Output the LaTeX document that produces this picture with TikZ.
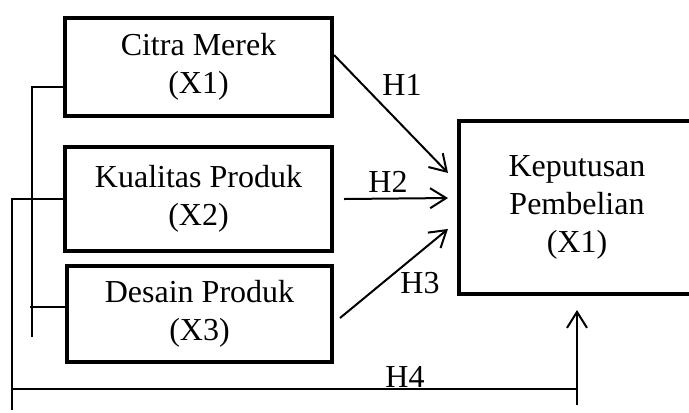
\documentclass[tikz,border=0pt]{standalone}
\usepackage{fontspec}
\setmainfont{Liberation Serif}
\usetikzlibrary{positioning,arrows.meta,calc}

\begin{document}
\begin{tikzpicture}[
    x=0.75pt, y=-0.75pt,
    box/.style={draw, line width=3pt, align=center, inner sep=0pt, font=\fontsize{24}{28.5}\selectfont},
    lbl/.style={inner sep=0pt, font=\fontsize{24}{28.5}\selectfont},
    link/.style={line width=1.5pt},
    arr/.style={link, -{Straight Barb[length=12pt,width=15pt]}}
]
\useasboundingbox (0,0) rectangle (689,412);
\clip (0,0) rectangle (689,412);
% variable boxes
\node[box, minimum width=200.25pt, minimum height=73.5pt] (citra) at (198.5,67) {Citra Merek\\(X1)};
\node[box, minimum width=200.25pt, minimum height=78pt] (kualitas) at (198.5,199) {Kualitas Produk\\(X2)};
\node[box, minimum width=198.75pt, minimum height=72pt] (desain) at (199.5,314) {Desain Produk\\(X3)};
\node[box, minimum width=177pt, minimum height=129.75pt] (keputusan) at (577,207.5) {Keputusan\\Pembelian\\(X1)};
% free ends of the side lines
\coordinate (brtop) at (32,87);
\coordinate (brbot) at (32,337);
\coordinate (outtop) at (12,199);
\coordinate (outbot) at (12,410);
\coordinate (h4end) at (577,389);
\coordinate (upstart) at (577,405);
% left brackets
\draw[link] (citra.west |- brtop) -- (brtop) -- (brbot);
\draw[link] ([yshift=5.25pt]desain.west) -- ++(-35,0);
\draw[link] (kualitas.west) -- (outtop) -- (outbot);
\draw[link] (outtop |- h4end) -- (h4end);
% hypotheses
\draw[arr] ([yshift=9pt]citra.east) -- ([xshift=-6.75pt,yshift=25.9pt]keputusan.west);
\draw[arr] ([xshift=7.5pt]kualitas.east) -- ([xshift=-6.75pt,yshift=7.1pt]keputusan.west);
\draw[arr] ([xshift=4.5pt,yshift=-3pt]desain.east) -- ([xshift=-6.75pt,yshift=-16.1pt]keputusan.west);
\draw[arr] (upstart) -- ([yshift=-10.5pt]keputusan.south);
\node[lbl] (h1) at (402,85) {H1};
\node[lbl] (h2) at (388,182) {H2};
\node[lbl] (h3) at (420,283) {H3};
\node[lbl] (h4) at (405,377) {H4};
\end{tikzpicture}
\end{document}
